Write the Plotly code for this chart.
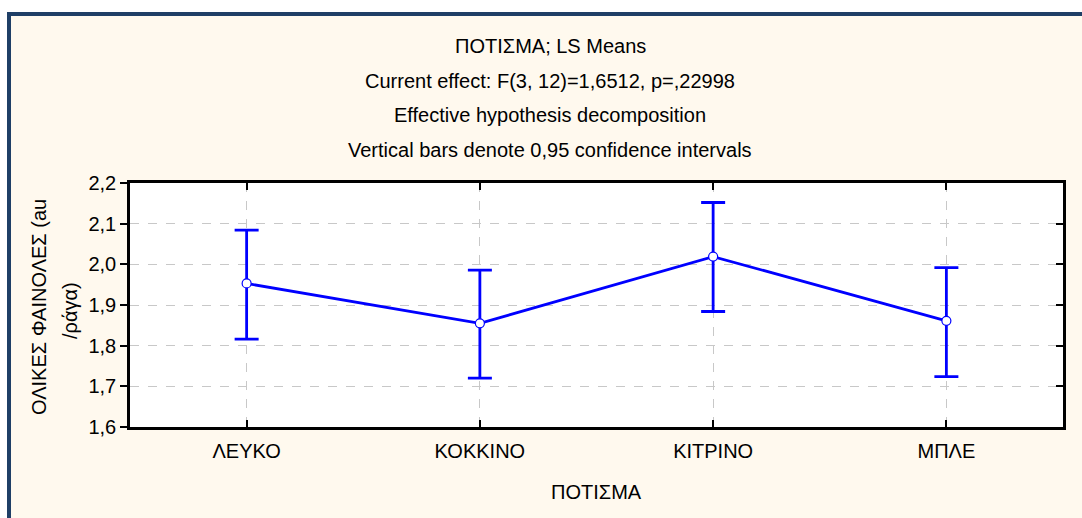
import plotly.graph_objects as go

categories = ["ΛΕΥΚΟ", "ΚΟΚΚΙΝΟ", "ΚΙΤΡΙΝΟ", "ΜΠΛΕ"]
means = [1.953, 1.855, 2.019, 1.861]
upper = [2.084, 1.986, 2.152, 1.992]
lower = [1.816, 1.720, 1.884, 1.724]
y_ticks = [1.6, 1.7, 1.8, 1.9, 2.0, 2.1, 2.2]
title_lines = [
    "ΠΟΤΙΣΜΑ; LS Means",
    "Current effect: F(3, 12)=1,6512, p=,22998",
    "Effective hypothesis decomposition",
    "Vertical bars denote 0,95 confidence intervals",
]

W, H = 1082, 518
L, R, T, B = 130, 19, 183, 91
pw, ph = W - L - R, H - T - B

def fx(px):
    return (px - L) / pw

def fy(py):
    return (H - B - py) / ph

FONT = "Liberation Sans, Arial, sans-serif"
FS = 20
BLUE = "#0000FF"

x_idx = list(range(len(categories)))
err_plus = [u - m for u, m in zip(upper, means)]
err_minus = [m - l for m, l in zip(means, lower)]

fig = go.Figure()
fig.add_trace(go.Scatter(
    x=x_idx, y=means, mode="lines+markers",
    line=dict(color=BLUE, width=2.8),
    marker=dict(symbol="circle", size=9, color="white", line=dict(color=BLUE, width=1.2)),
    error_y=dict(type="data", symmetric=False, array=err_plus, arrayminus=err_minus,
                 color=BLUE, thickness=2.8, width=12),
    showlegend=False,
))
# invisible trace to keep the right axis rendered
fig.add_trace(go.Scatter(x=x_idx, y=means, yaxis="y2", mode="lines",
                         line=dict(width=0), opacity=0, showlegend=False, hoverinfo="skip"))

shapes = [
    dict(type="rect", xref="paper", yref="paper",
         x0=fx(9), x1=fx(1095), y0=fy(530), y1=fy(14),
         fillcolor="#FFF9EE", line=dict(color="#1F3F66", width=4), layer="below"),
    dict(type="rect", xref="paper", yref="paper", x0=0, x1=1, y0=0, y1=1,
         fillcolor="white", line=dict(width=0), layer="below"),
]

annotations = []
for i, t in enumerate(title_lines):
    annotations.append(dict(text=t, xref="paper", yref="paper", x=fx(550), y=fy(46 + i * 34.7),
                            showarrow=False, xanchor="center", yanchor="middle",
                            font=dict(family=FONT, size=FS, color="black")))
annotations.append(dict(text="ΟΛΙΚΕΣ ΦΑΙΝΟΛΕΣ (au", xref="paper", yref="paper", x=fx(39), y=fy(307),
                        textangle=-90, showarrow=False, xanchor="center", yanchor="middle",
                        font=dict(family=FONT, size=FS, color="black")))
annotations.append(dict(text="/ράγα)", xref="paper", yref="paper", x=fx(70), y=fy(311),
                        textangle=-90, showarrow=False, xanchor="center", yanchor="middle",
                        font=dict(family=FONT, size=FS, color="black")))
annotations.append(dict(text="ΠΟΤΙΣΜΑ", xref="paper", yref="paper", x=0.5, y=fy(492),
                        showarrow=False, xanchor="center", yanchor="middle",
                        font=dict(family=FONT, size=FS, color="black")))

fig.update_layout(
    width=W, height=H,
    margin=dict(l=L, r=R, t=T, b=B, pad=0),
    paper_bgcolor="white", plot_bgcolor="white",
    separators=",.",
    font=dict(family=FONT, size=FS, color="black"),
    shapes=shapes, annotations=annotations,
    xaxis=dict(range=[-0.5, 3.5], tickmode="array", tickvals=x_idx, ticktext=categories,
               ticks="inside", ticklen=7, tickwidth=2, tickcolor="black",
               showline=True, linecolor="black", linewidth=2.5, mirror="ticks",
               showgrid=True, gridcolor="#C8C8C8", griddash="dash", gridwidth=1,
               zeroline=False, tickfont=dict(size=FS), ticklabelstandoff=4),
    yaxis=dict(range=[1.6, 2.2], tickmode="array", tickvals=y_ticks, tickformat=".1f",
               ticks="outside", ticklen=7, tickwidth=1.5, tickcolor="black",
               showline=True, linecolor="black", linewidth=2.5, mirror=True,
               showgrid=True, gridcolor="#C8C8C8", griddash="dash", gridwidth=1,
               zeroline=False, tickfont=dict(size=FS)),
    yaxis2=dict(range=[1.6, 2.2], overlaying="y", side="right", tickmode="array",
                tickvals=y_ticks, showticklabels=False, ticks="inside", ticklen=7,
                tickwidth=1.5, tickcolor="black", showgrid=False, zeroline=False,
                showline=False),
)

fig.write_html("out.html", config={"displayModeBar": False},
               post_script="document.body.style.margin='0';document.body.style.overflow='hidden';")
